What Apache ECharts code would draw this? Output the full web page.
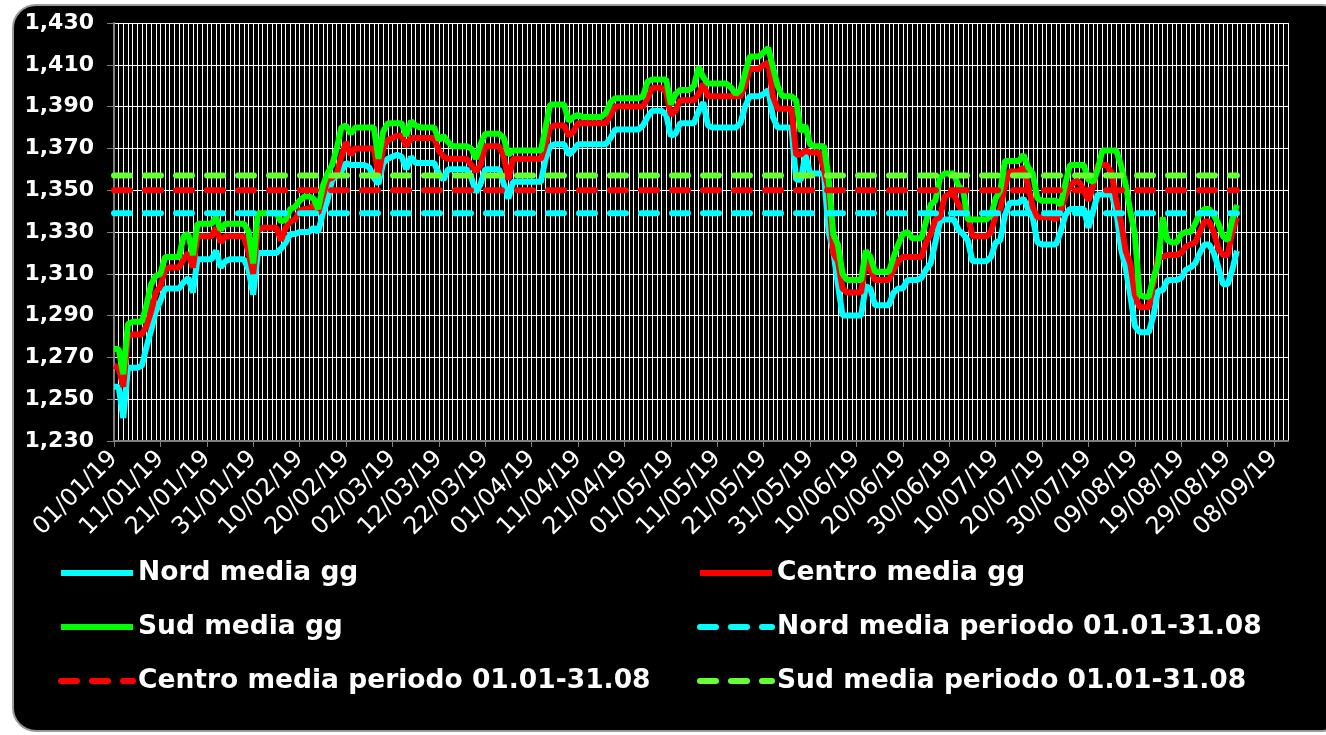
<!DOCTYPE html>
<html>
<head>
<meta charset="utf-8">
<script src="https://cdn.jsdelivr.net/npm/echarts@6.0.0/dist/echarts.min.js"></script>
<style>
  html, body { margin: 0; padding: 0; background: #fff; }
  #frame {
    position: absolute; left: 12px; top: 4px; width: 1330px; height: 724px;
    background: #000; border: 2px solid #9a9a9a; border-radius: 24px;
  }
  #chart { position: absolute; left: 0; top: 0; width: 1326px; height: 735px; }
</style>
</head>
<body>
<div id="frame"></div>
<div id="chart"></div>
<script>
// prezzi medi giornalieri, 01/01/19 -> 31/08/19
var nordGG = [
  1256, 1256, 1241, 1265, 1265, 1265, 1266, 1275, 1283, 1292,
  1297, 1303, 1303, 1303, 1303, 1306, 1308, 1301, 1317, 1317,
  1317, 1317, 1321, 1313, 1316, 1317, 1317, 1317, 1317, 1312,
  1300, 1320, 1320, 1320, 1320, 1320, 1322, 1325, 1329, 1329,
  1330, 1330, 1330, 1332, 1330, 1339, 1345, 1355, 1357, 1359,
  1363, 1362, 1362, 1362, 1362, 1361, 1356, 1353, 1363, 1365,
  1366, 1367, 1366, 1360, 1366, 1363, 1363, 1363, 1363, 1363,
  1358, 1355, 1360, 1360, 1360, 1360, 1360, 1356, 1349, 1353,
  1360, 1360, 1360, 1360, 1353, 1346, 1354, 1354, 1354, 1354,
  1354, 1354, 1354, 1365, 1371, 1372, 1372, 1372, 1367, 1369,
  1372, 1372, 1372, 1372, 1372, 1372, 1372, 1375, 1379, 1379,
  1379, 1379, 1379, 1379, 1381, 1385, 1388, 1388, 1388, 1386,
  1376, 1377, 1382, 1382, 1382, 1382, 1388, 1392, 1381, 1380,
  1380, 1380, 1380, 1380, 1380, 1382, 1390, 1395, 1395, 1395,
  1396, 1398, 1385, 1380, 1380, 1380, 1380, 1355, 1355, 1367,
  1358, 1358, 1358, 1358, 1330, 1321, 1305, 1290, 1290, 1290,
  1290, 1290, 1304, 1303, 1295, 1295, 1295, 1295, 1301, 1303,
  1303, 1307, 1307, 1307, 1308, 1312, 1315, 1325, 1335, 1336,
  1336, 1336, 1331, 1329, 1326, 1316, 1316, 1316, 1316, 1318,
  1325, 1326, 1338, 1344, 1344, 1344, 1346, 1341, 1337, 1325,
  1324, 1324, 1324, 1324, 1330, 1338, 1341, 1341, 1341, 1341,
  1332, 1340, 1348, 1348, 1348, 1348, 1340, 1322, 1313, 1300,
  1285, 1282, 1282, 1282, 1290, 1302, 1302, 1307, 1307, 1307,
  1308, 1312, 1313, 1315, 1320, 1324, 1324, 1320, 1313, 1305,
  1305, 1312, 1321
];
var centroGG = [
  1266, 1265, 1256, 1280, 1281, 1281, 1281, 1285, 1292, 1301,
  1304, 1312, 1313, 1313, 1313, 1317, 1320, 1313, 1328, 1328,
  1328, 1328, 1332, 1325, 1328, 1328, 1328, 1328, 1328, 1320,
  1310, 1331, 1332, 1332, 1332, 1332, 1326, 1332, 1335, 1336,
  1340, 1341, 1341, 1343, 1339, 1347, 1355, 1356, 1358, 1366,
  1373, 1367, 1370, 1370, 1370, 1370, 1370, 1357, 1370, 1374,
  1375, 1376, 1376, 1371, 1375, 1375, 1375, 1375, 1375, 1375,
  1369, 1366, 1365, 1365, 1365, 1365, 1365, 1362, 1359, 1362,
  1371, 1371, 1371, 1371, 1366, 1355, 1365, 1365, 1365, 1365,
  1365, 1365, 1365, 1372, 1380, 1381, 1381, 1381, 1376, 1378,
  1382, 1382, 1382, 1382, 1382, 1382, 1382, 1386, 1390, 1390,
  1390, 1390, 1390, 1390, 1390, 1394, 1399, 1399, 1399, 1397,
  1386, 1388, 1393, 1393, 1393, 1393, 1396, 1401, 1395, 1395,
  1395, 1395, 1395, 1395, 1395, 1395, 1400, 1408, 1408, 1408,
  1410, 1411, 1395, 1389, 1389, 1389, 1389, 1367, 1367, 1369,
  1368, 1368, 1368, 1360, 1350, 1320, 1316, 1303, 1301, 1301,
  1301, 1301, 1316, 1312, 1307, 1307, 1307, 1307, 1312, 1316,
  1318, 1318, 1318, 1318, 1318, 1325, 1329, 1336, 1337, 1347,
  1348, 1348, 1343, 1339, 1338, 1328, 1328, 1328, 1328, 1330,
  1338, 1341, 1352, 1359, 1359, 1359, 1361, 1352, 1342, 1337,
  1337, 1337, 1337, 1336, 1340, 1347, 1352, 1354, 1354, 1350,
  1345, 1352, 1362, 1362, 1362, 1358, 1345, 1335, 1321, 1315,
  1300, 1294, 1294, 1294, 1305, 1318, 1318, 1319, 1319, 1319,
  1320, 1323, 1324, 1325, 1330, 1335, 1335, 1330, 1322, 1319,
  1319, 1330, 1337
];
var sudGG = [
  1274, 1274, 1262, 1286, 1287, 1287, 1287, 1295, 1305, 1309,
  1310, 1318, 1318, 1318, 1318, 1328, 1329, 1319, 1334, 1334,
  1334, 1334, 1337, 1331, 1334, 1334, 1334, 1334, 1334, 1330,
  1315, 1339, 1339, 1339, 1339, 1339, 1335, 1336, 1341, 1342,
  1345, 1347, 1347, 1346, 1341, 1352, 1358, 1362, 1370, 1380,
  1381, 1377, 1380, 1380, 1380, 1380, 1380, 1365, 1378, 1382,
  1382, 1382, 1382, 1376, 1383, 1381, 1380, 1380, 1380, 1380,
  1374, 1376, 1373, 1371, 1371, 1371, 1371, 1370, 1365, 1372,
  1377, 1377, 1377, 1377, 1375, 1367, 1369, 1369, 1369, 1369,
  1369, 1369, 1369, 1380, 1391, 1391, 1391, 1391, 1383, 1385,
  1386, 1385, 1385, 1385, 1385, 1385, 1387, 1392, 1394, 1394,
  1394, 1394, 1394, 1394, 1395, 1402, 1403, 1403, 1403, 1403,
  1391, 1396, 1398, 1398, 1398, 1400, 1409, 1404, 1401, 1401,
  1401, 1401, 1401, 1399, 1396, 1398, 1406, 1414, 1414, 1414,
  1416, 1418, 1409, 1400, 1395, 1395, 1395, 1393, 1378, 1381,
  1372, 1371, 1371, 1371, 1356, 1329, 1324, 1310, 1307, 1307,
  1307, 1307, 1321, 1318, 1311, 1311, 1311, 1311, 1318, 1324,
  1329, 1330, 1327, 1327, 1327, 1335, 1343, 1345, 1356, 1358,
  1358, 1358, 1352, 1350, 1336, 1336, 1336, 1336, 1336, 1338,
  1346, 1350, 1364, 1364, 1364, 1364, 1367, 1361, 1358, 1346,
  1345, 1345, 1345, 1345, 1343, 1353, 1362, 1362, 1362, 1362,
  1355, 1354, 1360, 1369, 1369, 1369, 1369, 1362, 1353, 1340,
  1329, 1300, 1299, 1299, 1308, 1315, 1337, 1326, 1325, 1325,
  1329, 1330, 1330, 1334, 1339, 1341, 1341, 1338, 1334, 1328,
  1326, 1336, 1343
];
// medie del periodo 01.01-31.08
var nordPeriodo = 1339;
var centroPeriodo = 1350;
var sudPeriodo = 1357;

var yTicks = { min: 1230, max: 1430, step: 20 };
var nDays = 254; // asse dal 01/01/19 all'11/09/19

var days = [];
for (var i = 0; i < nDays; i++) {
  var d = new Date(Date.UTC(2019, 0, 1 + i));
  var dd = ('0' + d.getUTCDate()).slice(-2);
  var mm = ('0' + (d.getUTCMonth() + 1)).slice(-2);
  days.push(dd + '/' + mm + '/' + String(d.getUTCFullYear()).slice(-2));
}
function flat(v) {
  return nordGG.map(function () { return v; });
}

var myChart = echarts.init(document.getElementById('chart'));
var lineW = 6;
var dash = [16, 15];
var legendText = { color: '#fff', fontFamily: 'DejaVu Sans', fontWeight: 'bold', fontSize: 26.5, lineHeight: 30 };
var option = {
  backgroundColor: 'transparent',
  animation: false,
  grid: {
    left: 114, right: 38, top: 23, bottom: 294,
    containLabel: false, outerBoundsMode: 'none'
  },
  legend: [
    {
      orient: 'vertical', left: 58, top: 558, padding: 0,
      itemWidth: 72, itemHeight: 14, itemGap: 24,
      data: ['Nord media gg', 'Sud media gg', 'Centro media periodo 01.01-31.08'],
      textStyle: legendText,
      lineStyle: { width: lineW },
      itemStyle: { opacity: 0 }
    },
    {
      orient: 'vertical', left: 697, top: 558, padding: 0,
      itemWidth: 72, itemHeight: 14, itemGap: 24,
      data: ['Centro media gg', 'Nord media periodo 01.01-31.08', 'Sud media periodo 01.01-31.08'],
      textStyle: legendText,
      lineStyle: { width: lineW },
      itemStyle: { opacity: 0 }
    }
  ],
  xAxis: {
    type: 'category',
    data: days,
    boundaryGap: false,
    axisLine: { lineStyle: { color: '#808080', width: 2 } },
    axisTick: { interval: 9, length: 6, lineStyle: { color: '#808080', width: 1 } },
    axisLabel: {
      interval: 9, rotate: 45, margin: 14, color: '#fff',
      fontFamily: 'DejaVu Sans', fontSize: 24
    },
    splitLine: { show: true, interval: 0, lineStyle: { color: '#fff', width: 1 } }
  },
  yAxis: {
    type: 'value',
    min: yTicks.min, max: yTicks.max, interval: yTicks.step,
    axisLine: { show: true, lineStyle: { color: '#808080', width: 2 } },
    axisTick: { show: true, length: 7, lineStyle: { color: '#808080' } },
    axisLabel: {
      color: '#fff', fontFamily: 'DejaVu Sans', fontWeight: 'bold', fontSize: 22, margin: 20,
      formatter: function (v) { return v.toLocaleString('en-US'); }
    },
    splitLine: { lineStyle: { color: '#fff', width: 1 } }
  },
  series: [
    { name: 'Nord media gg', type: 'line', symbol: 'none', data: nordGG,
      lineStyle: { color: '#00FFFF', width: lineW }, itemStyle: { color: '#00FFFF' } },
    { name: 'Centro media gg', type: 'line', symbol: 'none', data: centroGG,
      lineStyle: { color: '#FF0000', width: lineW }, itemStyle: { color: '#FF0000' } },
    { name: 'Sud media gg', type: 'line', symbol: 'none', data: sudGG,
      lineStyle: { color: '#00FF00', width: lineW }, itemStyle: { color: '#00FF00' } },
    { name: 'Nord media periodo 01.01-31.08', type: 'line', symbol: 'none', data: flat(nordPeriodo),
      lineStyle: { color: '#00FFFF', width: lineW, type: dash, cap: 'round' }, itemStyle: { color: '#00FFFF' } },
    { name: 'Centro media periodo 01.01-31.08', type: 'line', symbol: 'none', data: flat(centroPeriodo),
      lineStyle: { color: '#FF0000', width: lineW, type: dash, cap: 'round' }, itemStyle: { color: '#FF0000' } },
    { name: 'Sud media periodo 01.01-31.08', type: 'line', symbol: 'none', data: flat(sudPeriodo),
      lineStyle: { color: '#66FF33', width: lineW, type: dash, cap: 'round' }, itemStyle: { color: '#66FF33' } }
  ]
};
myChart.setOption(option);
</script>
</body>
</html>
